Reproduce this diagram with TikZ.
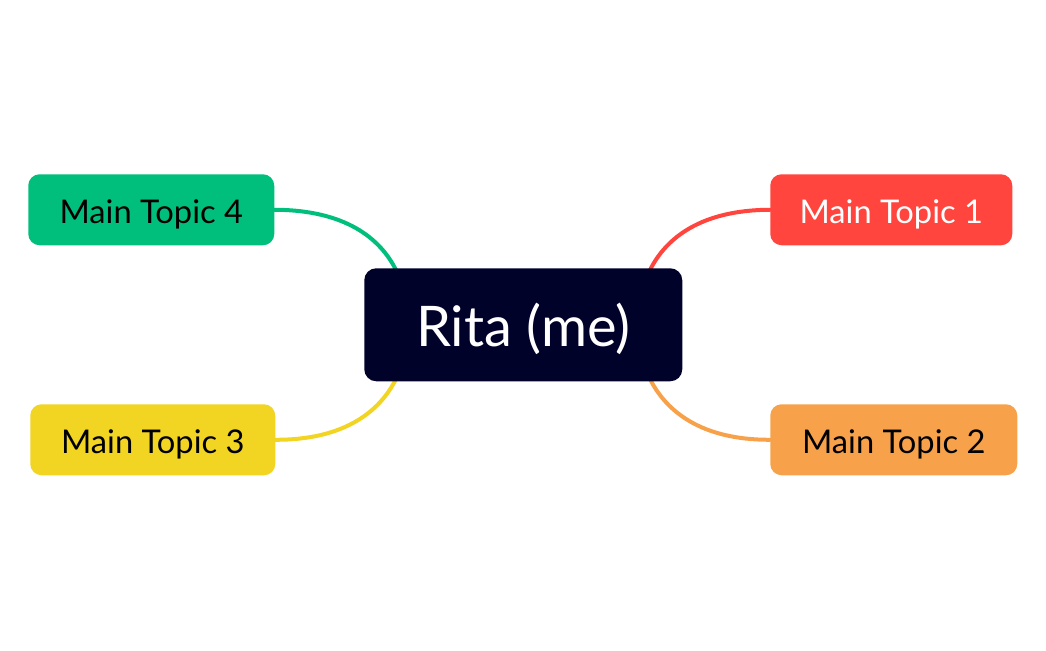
\documentclass[tikz,border=0pt]{standalone}
\usepackage{fontspec}
\setmainfont{Lato}
\definecolor{cnavy}{HTML}{00022A}
\definecolor{cgreen}{HTML}{00BF7D}
\definecolor{cred}{HTML}{FF453D}
\definecolor{cyellow}{HTML}{F2D422}
\definecolor{corange}{HTML}{F7A24B}
\newcommand{\lowr}[1]{\raisebox{-10.2pt}[0pt][0pt]{#1}}
\begin{document}
\begin{tikzpicture}[x=0.75pt,y=-0.75pt,
  topic/.style={rounded corners=8.5pt, inner sep=0pt, anchor=north west, font=\fontsize{24.5}{28}\selectfont, text=black},
  conn/.style={line width=3pt, line cap=round}]
\useasboundingbox (0,0) rectangle (1046,650);
\fill[white] (0,0) rectangle (1046,650);
\coordinate (g0) at (396,270);
\coordinate (r0) at (650,270);
\coordinate (y0) at (396,379);
\coordinate (o0) at (650,379);
\node[topic, fill=cgreen, minimum width=184.5pt, minimum height=53.25pt] (t4) at (28,174) {\lowr{Main Topic 4}};
\node[topic, fill=cred, text=white, minimum width=181.5pt, minimum height=53.25pt] (t1) at (770,174) {\lowr{Main Topic 1}};
\node[topic, fill=cyellow, minimum width=183.75pt, minimum height=53.25pt] (t3) at (30,404) {\lowr{Main Topic 3}};
\node[topic, fill=corange, minimum width=185.25pt, minimum height=53.25pt] (t2) at (770,404) {\lowr{Main Topic 2}};
\draw[conn, cgreen] (t4.east) .. controls (345,210) and (380,238) .. (g0);
\draw[conn, cred] (t1.west) .. controls (701,210) and (666,238) .. (r0);
\draw[conn, cyellow] (t3.east) .. controls (345,440) and (380,411) .. (y0);
\draw[conn, corange] (t2.west) .. controls (701,440) and (666,411) .. (o0);
\node[rounded corners=9pt, fill=cnavy, text=white, inner sep=0pt, anchor=north west, minimum width=238.5pt, minimum height=84.75pt, font=\fontsize{42}{48}\selectfont] (c) at (364,268) {\raisebox{-16pt}[0pt][0pt]{Rita (me)}};
\end{tikzpicture}
\end{document}
